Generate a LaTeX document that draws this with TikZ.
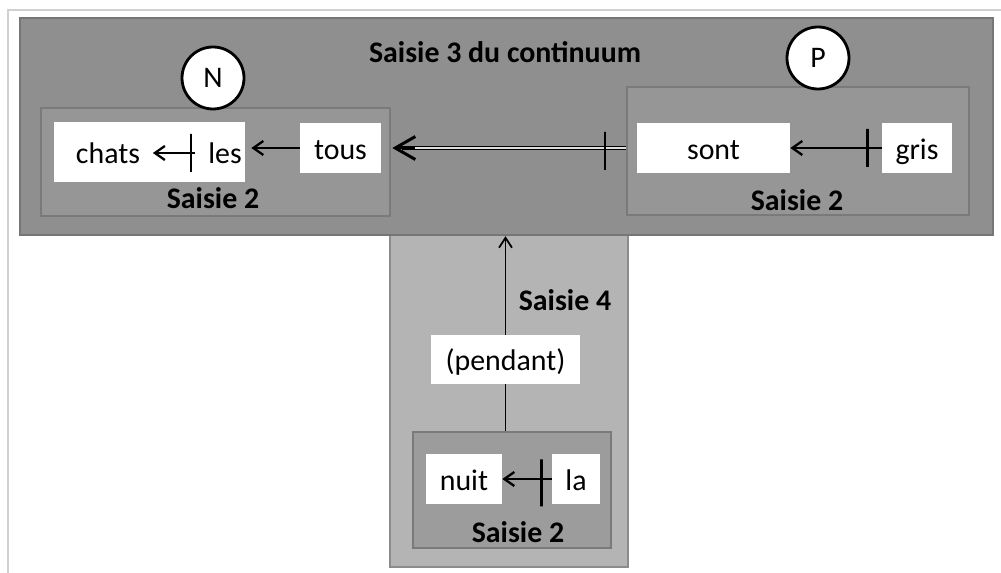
\documentclass[tikz,border=0pt]{standalone}
\usepackage{fontspec}
\setmainfont{Carlito}
\usetikzlibrary{arrows.meta,positioning,calc,fit}
\definecolor{panelgray}{RGB}{143,143,143}
\definecolor{paneledge}{RGB}{118,118,118}
\definecolor{innergray}{RGB}{150,150,150}
\definecolor{inneredge}{RGB}{122,122,122}
\definecolor{stemgray}{RGB}{180,180,180}
\definecolor{stemedge}{RGB}{140,140,140}
\definecolor{lowgray}{RGB}{156,156,156}
\definecolor{framegray}{RGB}{208,208,208}

\begin{document}
\begin{tikzpicture}[x=0.02cm,y=-0.02cm,
 panel/.style={draw=paneledge,line width=1.3pt,fill=panelgray,inner sep=0pt},
 stem/.style={draw=stemedge,line width=1.3pt,fill=stemgray,inner sep=0pt},
 inner/.style={draw=inneredge,line width=1.3pt,fill=innergray,inner sep=0pt},
 low/.style={draw=inneredge,line width=1.3pt,fill=lowgray,inner sep=0pt},
 card/.style={fill=white,inner sep=0pt,text height=0.46cm,text depth=0pt,font=\fontsize{17}{20}\selectfont},
 word/.style={inner ysep=0pt,inner xsep=0.25cm,text height=0.44cm,text depth=0pt,font=\fontsize{17}{20}\selectfont},
 heading/.style={font=\bfseries\fontsize{17}{20}\selectfont},
 tag/.style={circle,draw,line width=1.6pt,fill=white,minimum size=1.24cm,inner sep=0pt,font=\fontsize{17}{20}\selectfont},
 tick/.style={draw,line width=1.3pt,inner sep=0pt,minimum width=0pt,minimum height=0.76cm},
 link/.style={-{Straight Barb[length=2mm,width=2.8mm,line width=1.3pt]},line width=0.6pt},
 dbl/.style={double=gray!25,double distance=0.9pt,line width=0.7pt},
 dblhead/.style={-{Straight Barb[length=4mm,width=4.6mm,line width=1.7pt]},line width=1.7pt}
]
\useasboundingbox (0,0) rectangle (1001,573);
\draw[framegray,line width=1.2pt] (8,573) -- (8,10) -- (1001,10);

% frames
\node[stem,fit={(390,220) (628,567)}] (s4) {};
\node[panel,fit={(20,18) (993,235)}] (s3) {};
\node[inner,fit={(41,108) (390,216)}] (s2n) {};
\node[inner,fit={(627,87) (969,215)}] (s2p) {};
\node[low,fit={(413,432) (611,548)}] (s2d) {};

% words
\node[card,fit={(54,122) (245,182)}] (nbox) {};
\node[word] (chats) at (108,153) {chats};
\node[word] (les) at (225,153) {les};
\node[card,minimum width=1.62cm,minimum height=1cm] (tous) at (340.5,148) {tous};
\node[card,minimum width=3.06cm,minimum height=1cm] (sont) at (713.5,148) {sont};
\node[card,minimum width=1.4cm,minimum height=1cm] (gris) at (917,148) {gris};
\node[card,minimum width=2.98cm,minimum height=0.98cm] (pendant) at (505.5,359.5) {(pendant)};
\node[card,minimum width=1.52cm,minimum height=1cm] (nuit) at (464,479) {nuit};
\node[card,minimum width=0.96cm,minimum height=1cm] (la) at (576,479) {la};

% labels
\node[heading] (title) at (505,52) {Saisie 3 du continuum};
\node[heading] (lbn) at (213,198) {Saisie 2};
\node[heading] (lbp) at (797,200) {Saisie 2};
\node[heading] (lbd) at (518,532) {Saisie 2};
\node[heading] (lb4) at (565,300) {Saisie 4};
\node[tag] (tn) at (213,78) {N};
\node[tag] (tp) at (818,58) {P};

% links
\draw[link] (les.west) -- (chats.east);
\draw[link,shorten >=0.12cm] (tous.west) -- (tous.west -| nbox.east);
\draw[link] (gris.west) -- (sont.east);
\draw[link] (la.west) -- (nuit.east);
\draw[line width=0.6pt] (pendant.south |- s2d.north) -- (pendant.south);
\draw[link,-{Straight Barb[length=2mm,width=2.6mm,line width=1pt]}] (pendant.north) -- (pendant.north |- s3.south);
\coordinate[right=0.22cm of tous.east] (dtip);
\draw[dbl] (tous.east -| s2p.west) -- ([xshift=0.2cm]dtip);
\draw[dblhead] ([xshift=0.45cm]dtip) -- (dtip);

% bars
\node[tick,left=0.06cm of les.west] (bn) {};
\node[tick,left=0.26cm of gris.west] (bp) {};
\node[tick,left=0.4cm of s2p.west] (bd) {};
\node[tick,minimum height=0.94cm,left=0.18cm of la.west,yshift=-0.08cm] (bl) {};
\end{tikzpicture}
\end{document}
